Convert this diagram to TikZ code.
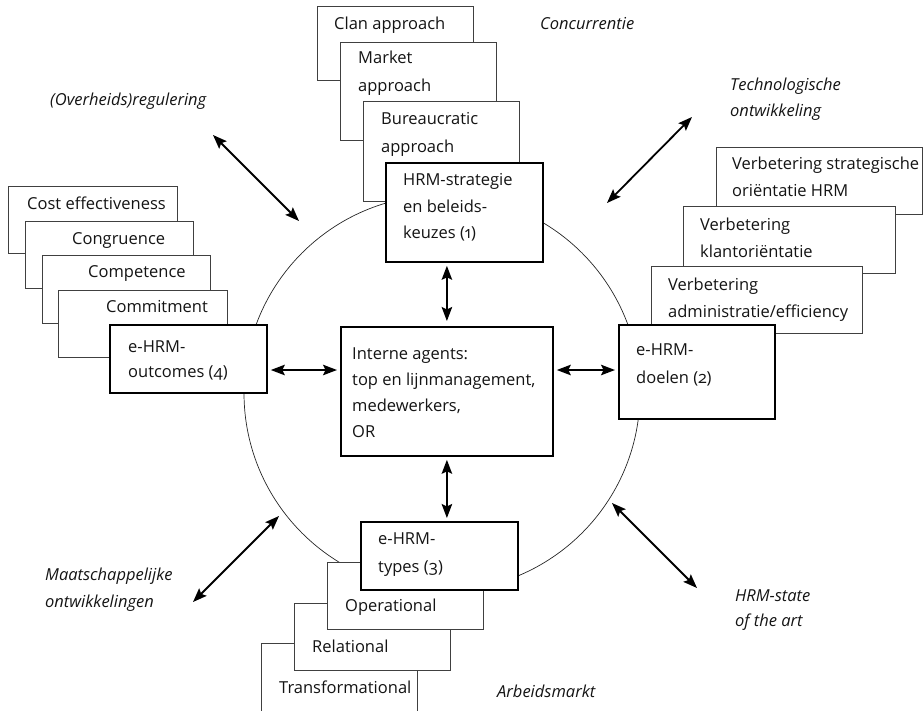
\documentclass[tikz,border=0pt]{standalone}
\usepackage{fontspec}
\setmainfont{Open Sans}[Numbers=OldStyle]
\usetikzlibrary{arrows.meta}
\begin{document}
\begin{tikzpicture}[x=1pt,y=-1pt,
  thinbox/.style={draw=black!75,line width=0.8pt,fill=white,inner sep=0pt},
  thickbox/.style={draw=black,line width=1.8pt,fill=white,inner sep=0pt},
  txt/.style={anchor=base west,inner sep=0pt,font=\fontsize{16.5}{27}\selectfont,text=black!92},
  itxt/.style={txt,font=\fontsize{16.5}{27}\selectfont\itshape},
  arr/.style={line width=1.8pt,{Stealth[length=14pt,width=10.5pt,inset=2.5pt]}-{Stealth[length=14pt,width=10.5pt,inset=2.5pt]}},
  ring/.style={draw=black!85,line width=0.7pt}
]
\useasboundingbox (0,0) rectangle (924,710);
% circle
\draw[ring] (442,393) circle[radius=198];
% top stack
\node[thinbox,anchor=north west,minimum width=156,minimum height=74] (clan) at (317,6) {};
\node[txt] (tclan) at (334,29) {Clan approach};
\node[thinbox,anchor=north west,minimum width=156,minimum height=98] (market) at (340,42) {};
\node[txt] (tmarket1) at (358,63) {Market};
\node[txt] (tmarket2) at (358,91) {approach};
\node[thinbox,anchor=north west,minimum width=156,minimum height=100] (bur) at (363,101) {};
\node[txt] (tbur1) at (381,124) {Bureaucratic};
\node[txt] (tbur2) at (381,152) {approach};
\node[thickbox,anchor=north west,minimum width=157,minimum height=99] (hrm) at (385,162) {};
\node[txt] (thrm1) at (403,185) {HRM-strategie};
\node[txt] (thrm2) at (403,212) {en beleids-};
\node[txt] (thrm3) at (403,238) {keuzes (1)};
% left stack
\node[thinbox,anchor=north west,minimum width=169,minimum height=67] (cost) at (8,186) {};
\node[txt] (tcost) at (27,209) {Cost effectiveness};
\node[thinbox,anchor=north west,minimum width=168,minimum height=67] (cong) at (25,221) {};
\node[txt] (tcong) at (72,244) {Congruence};
\node[thinbox,anchor=north west,minimum width=168,minimum height=68] (comp) at (42,255) {};
\node[txt] (tcomp) at (88,277) {Competence};
\node[thinbox,anchor=north west,minimum width=169,minimum height=67] (comm) at (58,290) {};
\node[txt] (tcomm) at (106,312) {Commitment};
\node[thickbox,anchor=north west,minimum width=157,minimum height=68] (outc) at (109,324) {};
\node[txt] (toutc1) at (128,352) {e-HRM-};
\node[txt] (toutc2) at (128,377) {outcomes (4)};
% right stack
\node[thinbox,anchor=north west,minimum width=206,minimum height=67] (strat) at (716,147) {};
\node[txt] (tstrat1) at (732,169) {Verbetering strategische};
\node[txt] (tstrat2) at (732,196) {oriëntatie HRM};
\node[thinbox,anchor=north west,minimum width=212,minimum height=67] (klant) at (683,206) {};
\node[txt] (tklant1) at (700,230) {Verbetering};
\node[txt] (tklant2) at (700,257) {klantoriëntatie};
\node[thinbox,anchor=north west,minimum width=211,minimum height=67] (adm) at (651,266) {};
\node[txt] (tadm1) at (668,290) {Verbetering};
\node[txt] (tadm2) at (668,317) {administratie/efficiency};
\node[thickbox,anchor=north west,minimum width=156,minimum height=94] (doel) at (618,324) {};
\node[txt] (tdoel1) at (636,355) {e-HRM-};
\node[txt] (tdoel2) at (636,383) {doelen (2)};
% center
\node[thickbox,anchor=north west,minimum width=212,minimum height=129] (ctr) at (340,326) {};
\node[txt] (tctr1) at (352,359) {Interne agents:};
\node[txt] (tctr2) at (352,385) {top en lijnmanagement,};
\node[txt] (tctr3) at (352,411) {medewerkers,};
\node[txt] (tctr4) at (352,437) {OR};
% bottom stack
\node[thinbox,anchor=north west,minimum width=156,minimum height=80] (trans) at (261,643) {};
\node[txt] (ttrans) at (279,693) {Transformational};
\node[thinbox,anchor=north west,minimum width=156,minimum height=67] (rel) at (294,603) {};
\node[txt] (trel) at (312,652) {Relational};
\node[thinbox,anchor=north west,minimum width=156,minimum height=67] (oper) at (327,562) {};
\node[txt] (toper) at (345,611) {Operational};
\node[thickbox,anchor=north west,minimum width=157,minimum height=68] (types) at (360,521) {};
\node[txt] (ttypes1) at (378,544) {e-HRM-};
\node[txt] (ttypes2) at (378,572) {types (3)};
% environment labels
\node[itxt] (conc) at (540,29) {Concurrentie};
\node[itxt] (overh) at (50,105) {(Overheids)regulering};
\node[itxt] (tech1) at (730,90) {Technologische};
\node[itxt] (tech2) at (730,116) {ontwikkeling};
\node[itxt] (maat1) at (45,580) {Maatschappelijke};
\node[itxt] (maat2) at (45,607) {ontwikkelingen};
\node[itxt] (state1) at (735,601) {HRM-state};
\node[itxt] (state2) at (735,626) {of the art};
\node[itxt] (arb) at (497,697) {Arbeidsmarkt};
% internal arrows
\coordinate (hl) at (0,370);
\draw[arr,shorten >=5pt,shorten <=3pt] (hrm.south -| ctr.north) -- (ctr.north);
\draw[arr,shorten >=3pt,shorten <=3pt] (ctr.south) -- (ctr.south |- types.north);
\draw[arr,shorten >=3pt,shorten <=3pt] (outc.east |- hl) -- (ctr.west |- hl);
\draw[arr,shorten >=3pt,shorten <=3pt] (ctr.east |- hl) -- (doel.west |- hl);
% external arrows
\coordinate (ul1) at (213,135); \coordinate (ul2) at (299,221);
\coordinate (ur1) at (607,203); \coordinate (ur2) at (692,117);
\coordinate (ll1) at (193,602); \coordinate (ll2) at (279,516);
\coordinate (lr1) at (612,503); \coordinate (lr2) at (697,588);
\draw[arr] (ul1) -- (ul2);
\draw[arr] (ur1) -- (ur2);
\draw[arr] (ll1) -- (ll2);
\draw[arr] (lr1) -- (lr2);
\end{tikzpicture}
\end{document}
